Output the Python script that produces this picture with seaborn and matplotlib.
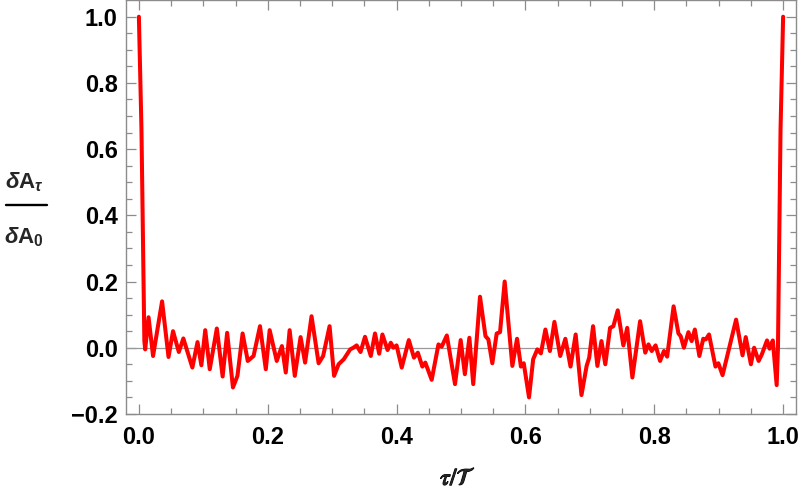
#!/usr/bin/env python3

import matplotlib
matplotlib.use("Agg")
import matplotlib.pyplot as plt
import matplotlib.patheffects as pe
import seaborn as sns
from matplotlib.lines import Line2D

# normalised delay (tau / T) and relative response
tau = [0.0, 0.004, 0.0085, 0.0098, 0.015, 0.022, 0.036, 0.046, 0.053, 0.062,
       0.069, 0.083, 0.091, 0.097, 0.103, 0.110, 0.121, 0.130, 0.137, 0.146,
       0.153, 0.161, 0.169, 0.178, 0.188, 0.197, 0.203, 0.214, 0.222, 0.228,
       0.234, 0.242, 0.251, 0.258, 0.268, 0.279, 0.286, 0.296, 0.303, 0.310,
       0.318, 0.323, 0.328, 0.333, 0.338, 0.344, 0.351, 0.360, 0.3665, 0.373,
       0.378, 0.386, 0.391, 0.395, 0.400, 0.408, 0.419, 0.427, 0.433, 0.440,
       0.4446, 0.4545, 0.465, 0.470, 0.478, 0.4907, 0.4995, 0.506, 0.513, 0.519,
       0.5295, 0.538, 0.5425, 0.5486, 0.5554, 0.5606, 0.5678, 0.5797, 0.587, 0.593,
       0.5974, 0.6056, 0.612, 0.6185, 0.624, 0.631, 0.638, 0.645, 0.654, 0.662,
       0.670, 0.678, 0.687, 0.695, 0.699, 0.705, 0.7117, 0.718, 0.724, 0.7314,
       0.7365, 0.7433, 0.752, 0.758, 0.766, 0.778, 0.786, 0.791, 0.796, 0.802,
       0.809, 0.815, 0.820, 0.830, 0.8375, 0.841, 0.846, 0.853, 0.858, 0.863,
       0.870, 0.876, 0.880, 0.885, 0.895, 0.8995, 0.906, 0.927, 0.937, 0.942,
       0.950, 0.955, 0.962, 0.967, 0.975, 0.979, 0.984, 0.990, 0.992, 0.996, 1.0]
ratio = [1.0, 0.66, 0.02, -0.005, 0.092, -0.025, 0.14, -0.028, 0.05, -0.013,
         0.028, -0.06, 0.017, -0.053, 0.053, -0.065, 0.058, -0.087, 0.045, -0.12,
         -0.085, 0.043, -0.04, -0.025, 0.065, -0.065, 0.053, -0.04, 0.005, -0.075,
         0.053, -0.085, 0.032, -0.045, 0.095, -0.047, -0.025, 0.065, -0.085, -0.05,
         -0.035, -0.02, -0.005, 0.0, 0.007, -0.013, 0.033, -0.025, 0.043, -0.018,
         0.04, -0.007, 0.015, 0.0, 0.007, -0.06, 0.023, -0.03, -0.015, -0.057,
         -0.045, -0.097, 0.01, 0.003, 0.037, -0.11, 0.023, -0.08, 0.03, -0.11,
         0.154, 0.035, 0.025, -0.047, 0.043, 0.047, 0.2, -0.055, 0.027, -0.057,
         -0.047, -0.15, -0.035, -0.005, -0.017, 0.055, -0.01, 0.078, -0.025, 0.027,
         -0.057, 0.04, -0.143, -0.055, -0.03, 0.065, -0.055, 0.02, -0.05, 0.06,
         0.065, 0.113, 0.007, 0.06, -0.09, 0.08, -0.015, 0.01, -0.01, 0.007,
         -0.04, -0.01, -0.027, 0.125, 0.043, 0.035, 0.0, 0.047, 0.02, 0.055,
         -0.025, 0.027, 0.025, 0.04, -0.057, -0.047, -0.083, 0.085, -0.023, 0.032,
         -0.05, 0.0, -0.04, -0.02, 0.022, -0.003, 0.022, -0.113, 0.0, 0.66, 1.0]

x_ticks = [0.0, 0.2, 0.4, 0.6, 0.8, 1.0]
y_ticks = [-0.2, 0.0, 0.2, 0.4, 0.6, 0.8, 1.0]

sns.set_style("ticks")
plt.rcParams["font.family"] = ["Liberation Sans", "DejaVu Sans"]
plt.rcParams["mathtext.fontset"] = "custom"
plt.rcParams["mathtext.rm"] = "Liberation Sans:bold"
plt.rcParams["mathtext.it"] = "Liberation Sans:bold:italic"
plt.rcParams["mathtext.bf"] = "Liberation Sans:bold"

fig = plt.figure(figsize=(8, 4.91), dpi=100)
ax = fig.add_axes([0.1575, 0.157, 0.8375, 0.842])

frame_grey = "#8c8c8c"
ax.axhline(0, color="#999999", lw=0.9, zorder=1)
sns.lineplot(x=tau, y=ratio, ax=ax, color="#ff0000", linewidth=2.9,
             sort=False, estimator=None, zorder=3)
ax.lines[-1].set_solid_joinstyle("round")

ax.set_xlim(-0.02, 1.02)
ax.set_ylim(-0.198, 1.049)
ax.set_xticks(x_ticks)
ax.set_yticks(y_ticks)
ax.set_xticks([i * 0.05 for i in range(21)], minor=True)
ax.set_yticks([-0.2 + i * 0.05 for i in range(25)], minor=True)
ax.set_xticklabels([f"{v:.1f}" for v in x_ticks])
ax.set_yticklabels([f"{v:.1f}".replace("-", "\u2212") for v in y_ticks])

for sp in ax.spines.values():
    sp.set_color(frame_grey)
    sp.set_linewidth(1.0)
ax.tick_params(which="both", direction="in", top=True, right=True,
               color=frame_grey, width=0.9)
ax.tick_params(which="major", length=7)
ax.tick_params(which="minor", length=4)
ax.tick_params(axis="x", which="major", pad=9)
ax.tick_params(axis="y", which="major", pad=6)
for lab in ax.get_xticklabels() + ax.get_yticklabels():
    lab.set_fontsize(17)
    lab.set_fontweight("bold")
    lab.set_color("black")

ax.set_xlabel("")
ax.set_ylabel("")

# x axis label
fig.text(458 / 800, 1 - 479 / 491, r"$\tau/\mathcal{T}$", ha="center", va="center",
         fontsize=17, math_fontfamily="stix",
         path_effects=[pe.withStroke(linewidth=0.8, foreground="black")])

# y axis label as a stacked fraction
fig.text(24 / 800, 1 - 188 / 491, r"$\delta\mathrm{A}_{\tau}$", ha="center",
         va="baseline", fontsize=16)
fig.add_artist(Line2D([6 / 800, 47 / 800], [1 - 205 / 491, 1 - 205 / 491],
                      transform=fig.transFigure, color="black", lw=1.7))
fig.text(24 / 800, 1 - 243 / 491, r"$\delta\mathrm{A}_{\mathrm{0}}$", ha="center",
         va="baseline", fontsize=16)

fig.savefig("out.png", dpi=100)
